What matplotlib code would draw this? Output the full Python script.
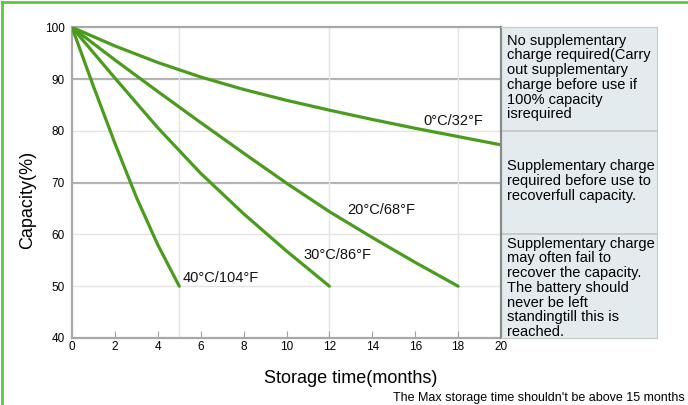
import numpy as np
import matplotlib.pyplot as plt
from matplotlib.lines import Line2D

plt.rcParams['font.family'] = ['Liberation Sans', 'DejaVu Sans']

## 보관 기간(개월) / 용량(%) 읽은 값
months_0c = [0, 2, 4, 6, 8, 10, 12, 14, 16, 18, 20]
cap_0c = [100, 96.4, 93.2, 90.4, 88.0, 85.9, 84.0, 82.2, 80.5, 78.9, 77.3]

months_20c = [0, 2, 4, 6, 8, 10, 12, 14, 16, 18]
cap_20c = [100, 93.7, 87.6, 81.6, 75.7, 69.9, 64.4, 59.4, 54.6, 50]

months_30c = [0, 2, 4, 6, 8, 10, 12]
cap_30c = [100, 90.2, 80.6, 71.8, 64.0, 56.8, 50]

months_40c = [0, 1, 2, 3, 4, 5]
cap_40c = [100, 88.6, 77.6, 67.2, 58.0, 50]

curve_labels = ['0°C/32°F', '20°C/68°F', '30°C/86°F', '40°C/104°F']
label_pos = [(16.4, 81.9), (12.85, 64.7), (10.8, 56.0), (5.15, 51.5)]

xticks = list(range(0, 21, 2))
yticks = [40, 50, 60, 70, 80, 90, 100]

panel_texts = [
    "No supplementary\ncharge required(Carry\nout supplementary\ncharge before use if\n100% capacity\nisrequired",
    "Supplementary charge\nrequired before use to\nrecoverfull capacity.",
    "Supplementary charge\nmay often fail to\nrecover the capacity.\nThe battery should\nnever be left\nstandingtill this is\nreached.",
]

green = '#4a9c1c'

fig = plt.figure(figsize=(6.88, 4.05), dpi=100)
ax = fig.add_axes([72/688, 1-338/405, 429/688, 310.7/405])

##격자선
for v in [80, 60, 50]:
    ax.axhline(v, color='#e4e4e4', lw=1, zorder=0)
for v in [90, 70]:
    ax.axhline(v, color='#b4b4b4', lw=1.6, zorder=0)
for m in [5, 12, 18]:
    ax.axvline(m, color='#e4e4e4', lw=1, zorder=0)

for xs, ys in [(months_0c, cap_0c), (months_20c, cap_20c),
               (months_30c, cap_30c), (months_40c, cap_40c)]:
    ax.plot(xs, ys, color=green, lw=2.3, solid_capstyle='round',
            solid_joinstyle='round', zorder=3)

for txt, (x, y) in zip(curve_labels, label_pos):
    ax.text(x, y, txt, fontsize=10.5, ha='left', va='center', color='#111111')

ax.set_xlim(0, 20)
ax.set_ylim(40, 100)
ax.set_xticks(xticks)
ax.set_yticks(yticks)
ax.tick_params(axis='x', direction='in', length=5, color='#a0a0a0', labelsize=8.5, pad=2)
ax.tick_params(axis='y', length=0, labelsize=8.5, pad=5)
for s in ['left', 'bottom', 'top']:
    ax.spines[s].set_color('#a8a8a8')
    ax.spines[s].set_linewidth(1.6)
ax.spines['right'].set_visible(False)

ax.set_xlabel('Storage time(months)', fontsize=13)
ax.xaxis.set_label_coords(0.65, -0.13)
ax.xaxis.label.set_va('center')
ax.set_ylabel('Capacity(%)', fontsize=13)
ax.yaxis.set_label_coords(-0.103, 0.444)
ax.yaxis.label.set_va('center')

##오른쪽 설명 칸
pax = fig.add_axes([501/688, 1-338/405, 156/688, 310.7/405])
pax.set_facecolor('#e3ebee')
pax.set_xlim(0, 1)
pax.set_ylim(40, 100)
pax.set_xticks([])
pax.set_yticks([])
for s in ['top', 'right', 'bottom']:
    pax.spines[s].set_color('#c8c8c8')
pax.spines['left'].set_color('#8a8a8a')
pax.spines['left'].set_linewidth(1.6)
for v in [80, 60]:
    pax.axhline(v, color='#c4c4c4', lw=1.2)

pax.text(0.04, 98.8, panel_texts[0], fontsize=10.5, va='top', ha='left', linespacing=1.07)
pax.text(0.04, 70.3, panel_texts[1], fontsize=10.5, va='center', ha='left', linespacing=1.07)
pax.text(0.04, 59.6, panel_texts[2], fontsize=10.5, va='top', ha='left', linespacing=1.07)

fig.text(0.996, 0.017, "The Max storage time shouldn't be above 15 months",
         fontsize=9, ha='right', va='center')

##테두리
fig.add_artist(Line2D([0.003, 1], [0.995, 0.995], color='#5cc83a', lw=2))
fig.add_artist(Line2D([0.003, 0.003], [0, 0.995], color='#5cc83a', lw=2))

fig.savefig('out.png', dpi=100)
